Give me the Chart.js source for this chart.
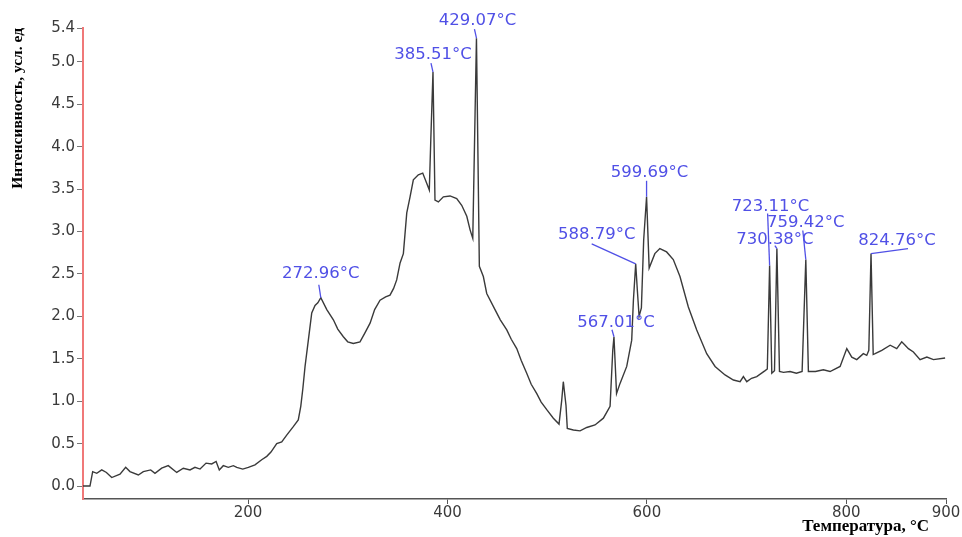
<!DOCTYPE html>
<html><head><meta charset="utf-8">
<script src="https://cdn.jsdelivr.net/npm/chart.js@4.4.0/dist/chart.umd.min.js"></script>
<style>html,body{margin:0;padding:0;background:#fff;}#wrap{width:962px;height:537px;}</style>
</head><body><div id="wrap"><canvas id="c" width="962" height="537"></canvas></div>
<script>
// Temperature (°C)
const temps = [34.5,41.5,44.2,48.3,53.3,58.0,63.3,71.6,77.3,81.6,90.0,95.0,102.4,106.7,113.4,120.0,128.5,135.1,141.8,146.8,151.9,157.9,163.6,168.0,171.2,175.2,180.2,185.3,188.7,194.7,200.3,207.0,213.7,218.8,223.0,228.8,233.8,238.8,245.4,250.4,252.9,255.0,257.2,260.5,263.9,267.2,270.0,273.0,279.0,285.6,290.0,295.6,300.0,305.6,312.3,317.0,322.4,327.0,332.4,338.0,342.4,346.0,349.1,352.5,355.8,359.2,362.5,365.8,370.8,375.2,379.2,381.8,383.3,385.5,387.5,390.9,395.9,402.6,409.3,414.3,419.4,422.7,425.4,427.7,429.1,432.0,436.0,439.4,447.7,453.0,459.5,464.0,469.5,474.0,479.5,484.0,489.6,494.0,499.6,506.2,511.9,514.6,516.2,518.9,520.2,526.3,533.0,539.7,548.0,556.4,563.1,565.8,567.0,569.6,573.1,579.8,584.8,586.5,588.8,590.5,592.2,594.5,596.8,599.7,602.3,608.0,613.0,619.8,626.5,633.2,641.6,650.0,660.0,668.4,678.4,686.8,693.5,696.8,700.2,705.0,710.2,718.6,720.8,723.1,725.3,728.0,730.4,733.0,737.0,743.6,750.0,755.7,759.4,762.0,769.1,777.0,783.7,793.8,800.5,805.5,810.5,817.1,820.5,822.6,824.8,827.0,828.9,835.6,844.0,850.6,855.6,859.0,862.3,867.3,874.0,880.8,887.4,899.1];
// Intensity (arb. units)
const intensity = [0.00,0.00,0.17,0.15,0.19,0.16,0.10,0.14,0.22,0.17,0.13,0.17,0.19,0.15,0.21,0.24,0.16,0.21,0.19,0.22,0.20,0.27,0.26,0.29,0.19,0.24,0.22,0.24,0.22,0.20,0.22,0.25,0.31,0.35,0.40,0.50,0.52,0.60,0.70,0.78,0.94,1.15,1.41,1.72,2.04,2.13,2.16,2.22,2.08,1.96,1.85,1.76,1.70,1.68,1.70,1.80,1.92,2.08,2.19,2.23,2.25,2.33,2.43,2.63,2.74,3.22,3.41,3.61,3.67,3.69,3.57,3.49,4.08,4.88,3.37,3.35,3.41,3.42,3.39,3.31,3.18,3.02,2.92,4.39,5.28,2.59,2.47,2.27,2.08,1.96,1.84,1.73,1.62,1.48,1.33,1.20,1.09,0.99,0.90,0.80,0.73,1.01,1.23,0.95,0.68,0.66,0.65,0.69,0.72,0.80,0.94,1.60,1.76,1.09,1.21,1.41,1.72,2.19,2.62,2.30,2.00,2.10,2.90,3.41,2.57,2.74,2.80,2.76,2.67,2.47,2.11,1.84,1.56,1.41,1.31,1.25,1.23,1.29,1.23,1.27,1.29,1.36,1.38,2.60,1.33,1.36,2.80,1.35,1.34,1.35,1.33,1.35,2.67,1.35,1.35,1.37,1.35,1.41,1.62,1.52,1.49,1.56,1.54,1.60,2.74,1.55,1.56,1.60,1.66,1.62,1.70,1.66,1.62,1.58,1.49,1.52,1.49,1.51];
const xTicks = [200,400,600,800,900];
const yTicks = [0,0.5,1.0,1.5,2.0,2.5,3.0,3.5,4.0,4.5,5.0,5.4];
const peakTemps = [273.0,385.5,429.1,567.0,588.8,599.7,723.1,730.4,759.4,824.8];
const peakLabels = ['272.96°C','385.51°C','429.07°C','567.01°C','588.79°C','599.69°C','723.11°C','730.38°C','759.42°C','824.76°C'];

// label placement (pixel offsets from the peak point), kept apart from the data
const labelLayout = [
  {dx:0, dy:-24, lx:-2, ly:-13},
  {dx:0, dy:-17, lx:-2, ly:-9},
  {dx:1, dy:-17, lx:-2, ly:-9},
  {dx:2, dy:-14, lx:-2, ly:-7},
  {dx:-39, dy:-29, lx:-44, ly:-20},
  {dx:3, dy:-24, lx:0, ly:-16},
  {dx:1, dy:-59, lx:-2, ly:-52},
  {dx:-2, dy:-9, lx:-2, ly:-3},
  {dx:0, dy:-37, lx:-3, ly:-29},
  {dx:26, dy:-13, lx:37, ly:-5}
];

const peakPlugin = {
  id: 'peaks',
  afterDatasetsDraw(chart) {
    const {ctx, scales:{x, y}} = chart;
    ctx.save();
    ctx.font = '16.5px "DejaVu Sans"';
    ctx.fillStyle = '#5050e6';
    ctx.strokeStyle = '#5050e6';
    ctx.lineWidth = 1.3;
    ctx.textAlign = 'center';
    ctx.textBaseline = 'middle';
    peakTemps.forEach((t, i) => {
      const idx = temps.indexOf(t);
      const px = x.getPixelForValue(t), py = y.getPixelForValue(intensity[idx]);
      const L = labelLayout[i];
      ctx.beginPath();
      ctx.moveTo(px + L.lx, py + L.ly);
      ctx.lineTo(px, py);
      ctx.stroke();
      ctx.fillText(peakLabels[i], px + L.dx, py + L.dy);
    });
    ctx.restore();
  }
};

new Chart(document.getElementById('c'), {
  type: 'line',
  data: {
    datasets: [{
      data: temps.map((t, i) => ({x: t, y: intensity[i]})),
      borderColor: '#3a3a3a',
      borderWidth: 1.4,
      pointRadius: 0,
      tension: 0,
      fill: false
    }]
  },
  options: {
    responsive: false,
    animation: false,
    devicePixelRatio: 1,
    layout: {padding: {top: 28, right: 16, left: 0, bottom: 0}},
    plugins: {legend: {display: false}, tooltip: {enabled: false}},
    scales: {
      x: {
        type: 'linear',
        min: 34.5, max: 900,
        afterFit(s) { s.height = 38; },
        afterBuildTicks(s) { s.ticks = xTicks.map(v => ({value: v})); },
        border: {color: '#555', width: 1.5},
        grid: {drawOnChartArea: false, drawTicks: true, tickLength: 5, color: '#555'},
        ticks: {color: '#3a3a3a', padding: 0, font: {family: 'DejaVu Sans', size: 15}, maxRotation: 0},
        title: {display: true, text: 'Температура, °C\u00a0\u00a0\u00a0\u00a0', align: 'end', color: '#000',
                font: {family: 'Liberation Serif', size: 17, weight: 'bold'}, padding: {top: 0, bottom: 0}}
      },
      y: {
        min: -0.153, max: 5.4,
        afterFit(s) { s.width = 83; },
        afterBuildTicks(s) { s.ticks = yTicks.map(v => ({value: v})); },
        border: {color: '#f07878', width: 2},
        grid: {drawOnChartArea: false, drawTicks: true, tickLength: 6, color: '#777'},
        ticks: {color: '#3a3a3a', padding: 2, font: {family: 'DejaVu Sans', size: 15},
                callback: v => Number(v).toFixed(1)},
        title: {display: true, text: 'Интенсивность, усл. ед', align: 'end', color: '#000',
                font: {family: 'Liberation Serif', size: 15.5, weight: 'bold'}, padding: {top: 9, bottom: 0}}
      }
    }
  },
  plugins: [peakPlugin]
});
</script>
</body></html>
